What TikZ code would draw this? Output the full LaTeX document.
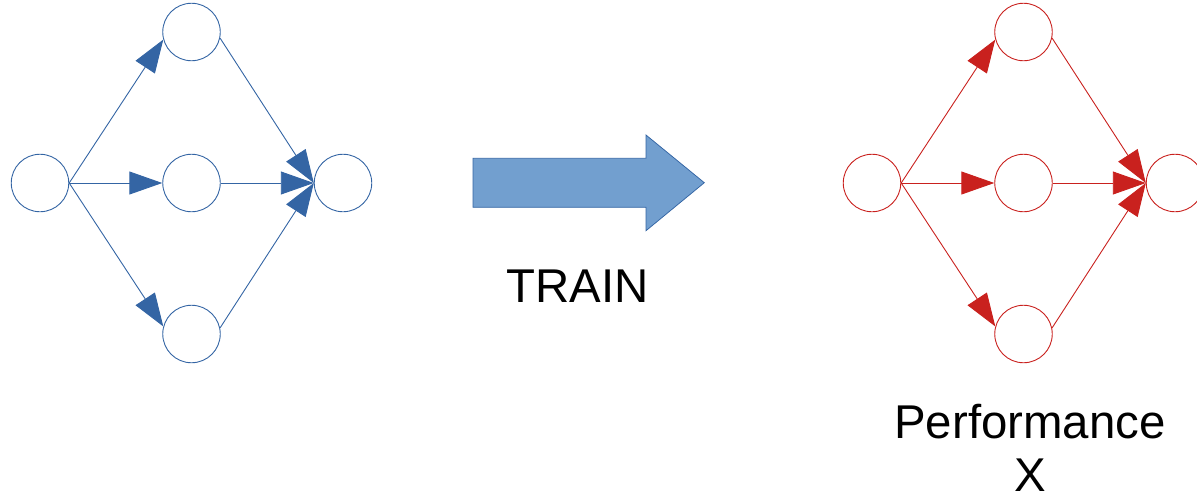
\documentclass[tikz,border=0pt]{standalone}
\usepackage{fontspec}
\setmainfont{Liberation Sans}
\usetikzlibrary{arrows.meta}
\definecolor{netblue}{HTML}{3465A4}
\definecolor{netred}{HTML}{C9211E}
\definecolor{arrowfill}{HTML}{729FCF}
\begin{document}
\begin{tikzpicture}[x=1pt,y=-1pt,
  neuron/.style={circle,draw,line width=0.9pt,minimum size=57.5pt,inner sep=0pt},
  conn/.style={line width=0.9pt,-{Triangle[length=33pt,width=23pt]}},
  bigtext/.style={font=\fontsize{47.4}{53.4}\selectfont,inner sep=0pt}]
\useasboundingbox (0,0) rectangle (1197,499);
\clip (0,0) rectangle (1197,499);
\foreach \dx/\col/\p in {0/netblue/L, 832/netred/R}{
  \begin{scope}[xshift=\dx pt, color=\col]
    \node[neuron] (\p in) at (40,183) {};
    \node[neuron] (\p h1) at (191.5,32) {};
    \node[neuron] (\p h2) at (191.5,183) {};
    \node[neuron] (\p h3) at (191.5,334) {};
    \node[neuron] (\p out) at (343,183) {};
    \draw[conn] (\p in.east) -- (\p h1.195);
    \draw[conn] (\p in.east) -- (\p h2.west);
    \draw[conn] (\p in.east) -- (\p h3.165);
    \draw[conn] (\p h1.-12) -- (\p out.west);
    \draw[conn] (\p h2.east) -- (\p out.west);
    \draw[conn] (\p h3.12) -- (\p out.west);
  \end{scope}
}
\draw[netblue, line width=0.75pt, fill=arrowfill] (473,158.3) -- (646,158.3) -- (646,135) -- (704.3,182.7) -- (646,230.7) -- (646,207.3) -- (473,207.3) -- cycle;
\node[bigtext, anchor=base] (train) at (577.4,302.7) {TRAIN};
\node[bigtext, anchor=base, align=center] (perf) at (1030,491.7) {Performance\\X};
\end{tikzpicture}
\end{document}
